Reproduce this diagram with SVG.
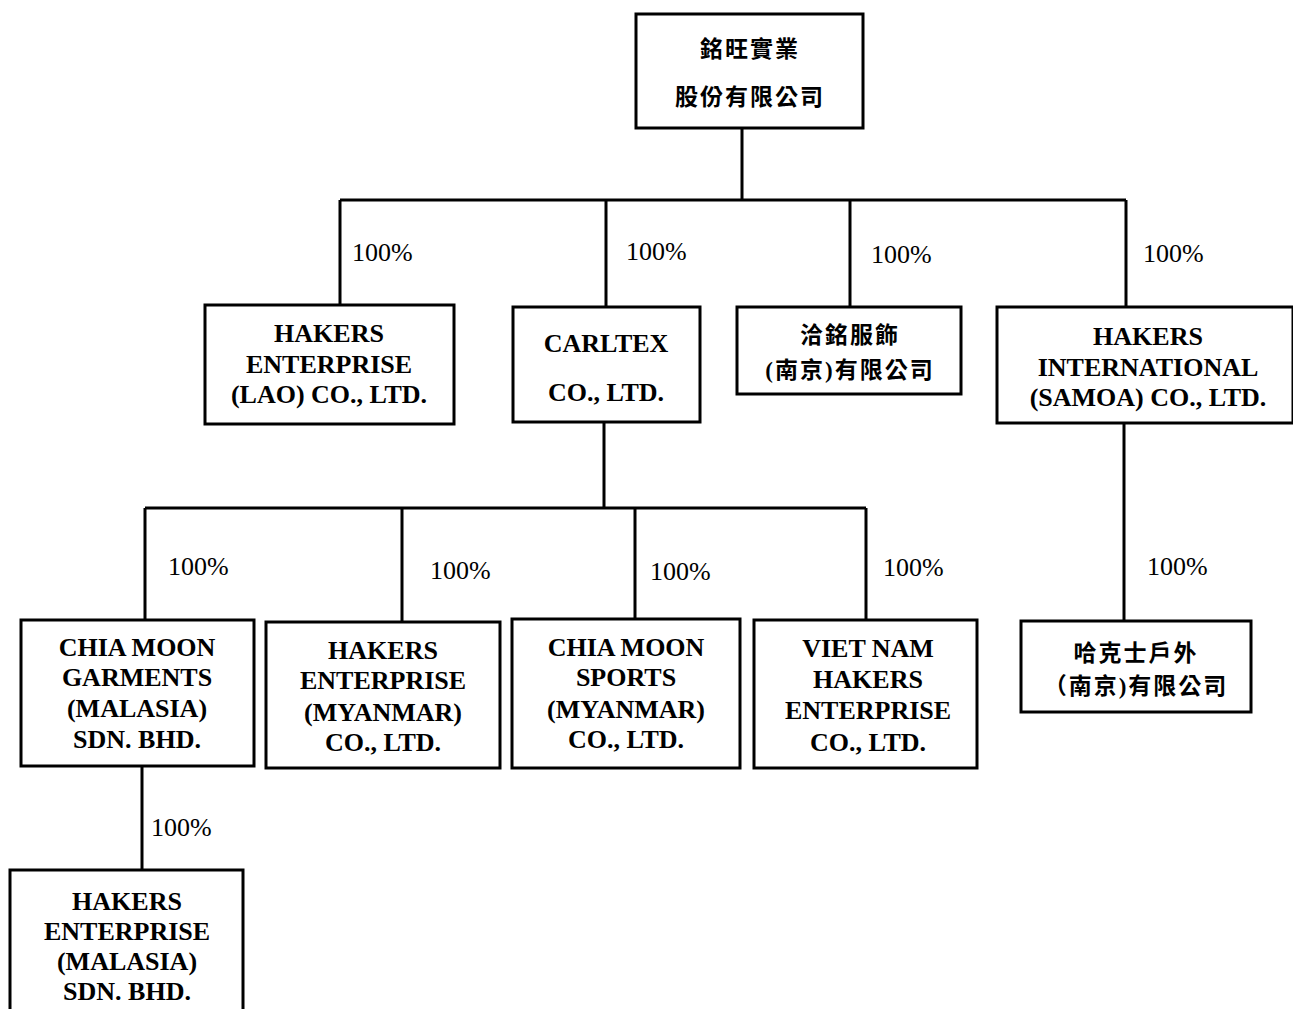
<svg xmlns="http://www.w3.org/2000/svg" width="1293" height="1009" viewBox="0 0 1293 1009">
<style>
.box{fill:#fff;stroke:#000;stroke-width:3}
.ln{stroke:#000;stroke-width:3;fill:none}
.t{font-family:"Liberation Serif","Times New Roman",serif;font-weight:bold;font-size:26px;text-anchor:middle;fill:#000}
.c{font-family:"Liberation Serif","Noto Sans CJK TC",serif;font-weight:bold;font-size:23px;letter-spacing:2px;text-anchor:middle;fill:#000}
.p{font-family:"Liberation Serif","Times New Roman",serif;font-size:26px;fill:#000}
</style>
<rect width="1293" height="1009" fill="#fff"/>
<g id="connectors">
<path class="ln" d="M742,128V200M340,200H1126M340,200V305M606,200V307M850,200V307M1126,200V307"/>
<path class="ln" d="M604,422V508M145,508H866M145,508V620M402,508V622M635,508V619M866,508V620"/>
<path class="ln" d="M1124,423V621"/>
<path class="ln" d="M142,766V870"/>
<text class="p" x="352" y="261">100%</text>
<text class="p" x="626" y="260">100%</text>
<text class="p" x="871" y="263">100%</text>
<text class="p" x="1143" y="262">100%</text>
<text class="p" x="168" y="575">100%</text>
<text class="p" x="430" y="579">100%</text>
<text class="p" x="650" y="580">100%</text>
<text class="p" x="883" y="576">100%</text>
<text class="p" x="1147" y="575">100%</text>
<text class="p" x="151" y="836">100%</text>
</g>
<g id="parent">
<rect class="box" x="636" y="14" width="227" height="114"/>
<text class="c" x="750" y="57">銘旺實業</text>
<text class="c" x="750" y="105">股份有限公司</text>
</g>
<g id="lao">
<rect class="box" x="205" y="305" width="249" height="119"/>
<text class="t" x="329" y="342">HAKERS</text>
<text class="t" x="329" y="373">ENTERPRISE</text>
<text class="t" x="329" y="403">(LAO) CO., LTD.</text>
</g>
<g id="carltex">
<rect class="box" x="513" y="307" width="187" height="115"/>
<text class="t" x="606" y="352">CARLTEX</text>
<text class="t" x="606" y="401">CO., LTD.</text>
</g>
<g id="qiaming">
<rect class="box" x="737" y="307" width="224" height="87"/>
<text class="c" x="850" y="343">洽銘服飾</text>
<text class="c" x="850" y="378">(南京)有限公司</text>
</g>
<g id="samoa">
<rect class="box" x="997" y="307" width="296" height="116"/>
<text class="t" x="1148" y="345">HAKERS</text>
<text class="t" x="1148" y="376">INTERNATIONAL</text>
<text class="t" x="1148" y="406">(SAMOA) CO., LTD.</text>
</g>
<g id="garments">
<rect class="box" x="21" y="620" width="233" height="146"/>
<text class="t" x="137" y="656">CHIA MOON</text>
<text class="t" x="137" y="686">GARMENTS</text>
<text class="t" x="137" y="717">(MALASIA)</text>
<text class="t" x="137" y="748">SDN. BHD.</text>
</g>
<g id="myanmar">
<rect class="box" x="266" y="622" width="234" height="146"/>
<text class="t" x="383" y="659">HAKERS</text>
<text class="t" x="383" y="689">ENTERPRISE</text>
<text class="t" x="383" y="721">(MYANMAR)</text>
<text class="t" x="383" y="751">CO., LTD.</text>
</g>
<g id="sports">
<rect class="box" x="512" y="619" width="228" height="149"/>
<text class="t" x="626" y="656">CHIA MOON</text>
<text class="t" x="626" y="686">SPORTS</text>
<text class="t" x="626" y="718">(MYANMAR)</text>
<text class="t" x="626" y="748">CO., LTD.</text>
</g>
<g id="vietnam">
<rect class="box" x="754" y="620" width="223" height="148"/>
<text class="t" x="868" y="657">VIET NAM</text>
<text class="t" x="868" y="688">HAKERS</text>
<text class="t" x="868" y="719">ENTERPRISE</text>
<text class="t" x="868" y="751">CO., LTD.</text>
</g>
<g id="hakers-nanjing">
<rect class="box" x="1021" y="621" width="230" height="91"/>
<text class="c" x="1136" y="661">哈克士戶外</text>
<text class="c" x="1136" y="694">（南京)有限公司</text>
</g>
<g id="malasia">
<rect class="box" x="10" y="870" width="233" height="150"/>
<text class="t" x="127" y="910">HAKERS</text>
<text class="t" x="127" y="940">ENTERPRISE</text>
<text class="t" x="127" y="970">(MALASIA)</text>
<text class="t" x="127" y="1000">SDN. BHD.</text>
</g>
</svg>
